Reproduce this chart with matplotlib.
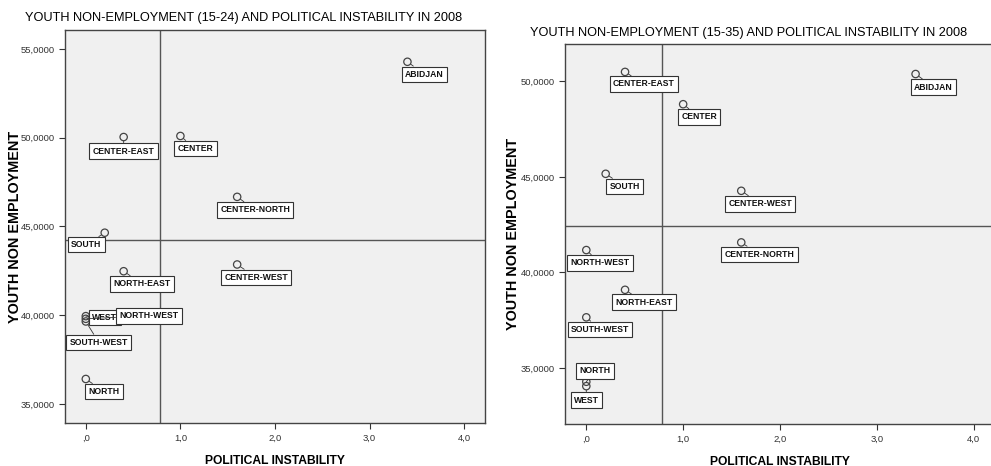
import matplotlib
matplotlib.use("Agg")
import matplotlib.pyplot as plt
import numpy as np
from matplotlib.ticker import FuncFormatter

regions = ["ABIDJAN", "CENTER-EAST", "CENTER", "CENTER-NORTH", "SOUTH", "NORTH-EAST",
           "CENTER-WEST", "WEST", "NORTH-WEST", "SOUTH-WEST", "NORTH"]
instability = [3.4, 0.4, 1.0, 1.6, 0.2, 0.4, 1.6, 0.0, 0.0, 0.0, 0.0]
nonemp_15_24 = [54.28, 50.04, 50.10, 46.67, 44.65, 42.48, 42.86, 39.95, 39.80, 39.65, 36.41]
nonemp_15_35 = [50.38, 50.49, 48.80, 41.57, 45.16, 39.09, 44.27, 34.05, 41.17, 37.65, 34.28]

# label placement (pixels right / down from the point)
offsets_15_24 = {"ABIDJAN": (17, 12.5), "CENTER-EAST": (0, 14), "CENTER": (15, 12.7),
                 "CENTER-NORTH": (18, 13), "SOUTH": (-18.5, 12), "NORTH-EAST": (18.5, 12.6),
                 "CENTER-WEST": (19, 13), "WEST": (19, 1.5), "NORTH-WEST": (63, -3),
                 "SOUTH-WEST": (13, 21), "NORTH": (18.5, 12.7)}
offsets_15_35 = {"ABIDJAN": (18, 13), "CENTER-EAST": (19, 12), "CENTER": (16, 12.7),
                 "CENTER-NORTH": (18.3, 12), "SOUTH": (19, 12.7), "NORTH-EAST": (19, 12.3),
                 "CENTER-WEST": (19, 13), "WEST": (0, 14), "NORTH-WEST": (13.7, 12.8),
                 "SOUTH-WEST": (13.7, 12), "NORTH": (9, -11)}

NARROW = ["Liberation Sans Narrow", "Liberation Sans", "DejaVu Sans"]
REGULAR = ["Liberation Sans", "DejaVu Sans"]
W, H = 991, 466


def comma(fmt):
    return FuncFormatter(lambda v, _: (fmt % v).replace(".", ",").lstrip("0") if abs(v) < 1e-9
                         else (fmt % v).replace(".", ","))


def scatter_panel(ax, y, offsets, ylim, yticks):
    x = np.array(instability)
    y = np.array(y)
    ax.set_facecolor("#f0f0f0")
    # reference lines at the means
    ax.axvline(x.mean(), color="#555555", lw=1.0, zorder=1)
    ax.axhline(y.mean(), color="#555555", lw=1.0, zorder=1)
    ax.scatter(x, y, s=28, facecolors="none", edgecolors="#444444", linewidths=0.9, zorder=3)
    for name, xi, yi in zip(regions, x, y):
        dx, dy = offsets[name]
        ax.annotate(name, (xi, yi), xytext=(dx, -dy), textcoords="offset pixels",
                    ha="center", va="center", fontsize=6.2, fontweight="bold",
                    family=NARROW, color="#111111", zorder=4,
                    bbox=dict(boxstyle="square,pad=0.38", fc="white", ec="#333333", lw=0.8),
                    arrowprops=dict(arrowstyle="-", color="#333333", lw=0.6,
                                    shrinkA=0, shrinkB=3))
    ax.set_xlim(-0.22, 4.22)
    ax.set_ylim(*ylim)
    ax.set_xticks([0, 1, 2, 3, 4])
    ax.set_yticks(yticks)
    ax.xaxis.set_major_formatter(comma("%.1f"))
    ax.yaxis.set_major_formatter(comma("%.4f"))
    ax.tick_params(direction="out", length=4, width=0.8, color="#333333",
                   labelsize=6.8, labelcolor="#333333", top=False, right=False)
    for lab in ax.get_xticklabels() + ax.get_yticklabels():
        lab.set_family(NARROW)
    for sp in ax.spines.values():
        sp.set_color("#444444")
        sp.set_linewidth(1.0)
    ax.set_xlabel("POLITICAL INSTABILITY", fontsize=8.7, fontweight="bold",
                  family=REGULAR, labelpad=9)


fig = plt.figure(figsize=(W / 100, H / 100), dpi=100)

ax1 = fig.add_axes([65 / W, 43 / H, 420 / W, 393 / H])
scatter_panel(ax1, nonemp_15_24, offsets_15_24, (33.93, 56.07), [35, 40, 45, 50, 55])

ax2 = fig.add_axes([565 / W, 42 / H, 430 / W, 380 / H])
scatter_panel(ax2, nonemp_15_35, offsets_15_35, (32.07, 51.95), [35, 40, 45, 50])

fig.text(244 / W, 1 - 18 / H, "YOUTH NON-EMPLOYMENT (15-24) AND POLITICAL INSTABILITY IN 2008",
         ha="center", va="center", fontsize=9.2, family=NARROW)
fig.text(749 / W, 1 - 33 / H, "YOUTH NON-EMPLOYMENT (15-35) AND POLITICAL INSTABILITY IN 2008",
         ha="center", va="center", fontsize=9.2, family=NARROW)
fig.text(15 / W, 1 - 227 / H, "YOUTH NON EMPLOYMENT", rotation=90, ha="center", va="center",
         fontsize=10.4, fontweight="bold", family=REGULAR)
fig.text(513 / W, 1 - 234 / H, "YOUTH NON EMPLOYMENT", rotation=90, ha="center", va="center",
         fontsize=10.4, fontweight="bold", family=REGULAR)

fig.savefig("out.png", dpi=100)
